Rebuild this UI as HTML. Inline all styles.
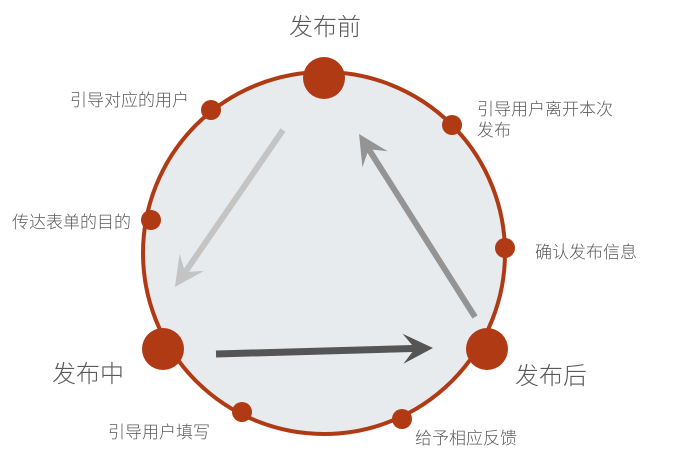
<!DOCTYPE html>
<html><head><meta charset="utf-8"><style>
html,body{margin:0;padding:0;background:#fff;}
svg{display:block;}
text{font-family:"Liberation Sans","Noto Sans CJK SC",sans-serif;fill:#5a5a5a;font-weight:300;}
</style></head><body>
<svg width="692" height="458" viewBox="0 0 692 458" xmlns="http://www.w3.org/2000/svg">
<defs>
<marker id="m1" markerUnits="userSpaceOnUse" viewBox="-32 -17 34 34" refX="-16" refY="0" markerWidth="34" markerHeight="34" orient="auto"><path d="M0,0 L-30,-15 L-18,0 L-30,15 Z" fill="#c4c4c4"/></marker>
<marker id="m2" markerUnits="userSpaceOnUse" viewBox="-32 -17 34 34" refX="-16" refY="0" markerWidth="34" markerHeight="34" orient="auto"><path d="M0,0 L-30,-15 L-18,0 L-30,15 Z" fill="#949494"/></marker>
<marker id="m3" markerUnits="userSpaceOnUse" viewBox="-32 -17 34 34" refX="-16" refY="0" markerWidth="34" markerHeight="34" orient="auto"><path d="M0,0 L-30,-15 L-18,0 L-30,15 Z" fill="#555555"/></marker>
</defs>
<circle cx="324" cy="253" r="181" fill="#e8ebee" stroke="#b03a14" stroke-width="4"/>
<line x1="283" y1="130" x2="184" y2="273.8" stroke="#c4c4c4" stroke-width="6" marker-end="url(#m1)"/>
<line x1="475" y1="317" x2="367.6" y2="147.5" stroke="#949494" stroke-width="6" marker-end="url(#m2)"/>
<line x1="216" y1="354" x2="417" y2="348.4" stroke="#555555" stroke-width="7" marker-end="url(#m3)"/>
<g fill="#b03a14">
<circle cx="324" cy="78" r="21"/>
<circle cx="163" cy="349" r="21"/>
<circle cx="487" cy="349" r="21"/>
<circle cx="211" cy="110" r="10"/>
<circle cx="452" cy="125" r="10"/>
<circle cx="151" cy="220" r="10"/>
<circle cx="505" cy="248" r="10"/>
<circle cx="242" cy="412" r="10"/>
<circle cx="402" cy="419" r="10"/>
</g>
<text x="325" y="35" font-size="24" text-anchor="middle">发布前</text>
<text x="52" y="382" font-size="24">发布中</text>
<text x="515" y="384" font-size="24">发布后</text>
<g font-size="17">
<text x="70" y="106">引导对应的用户</text>
<text x="477" y="115">引导用户离开本次</text>
<text x="477" y="136">发布</text>
<text x="12" y="228">传达表单的目的</text>
<text x="535" y="258">确认发布信息</text>
<text x="108" y="438">引导用户填写</text>
<text x="415" y="444">给予相应反馈</text>
</g>
</svg>
</body></html>
